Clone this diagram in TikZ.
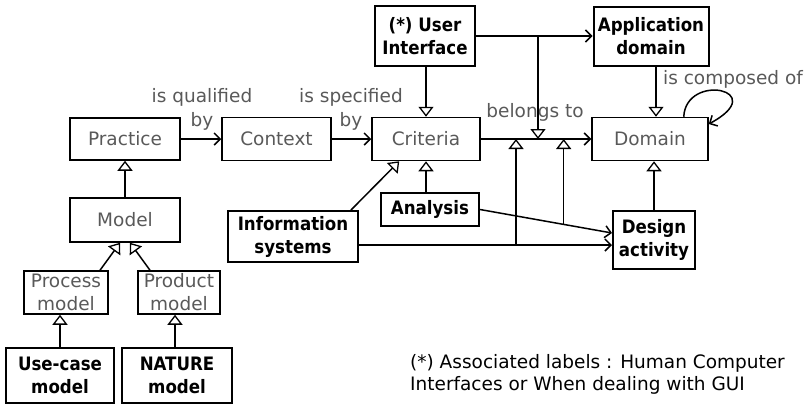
\documentclass[tikz,border=0pt]{standalone}
\usepackage{fontspec}
\setmainfont{DejaVu Sans}
\newfontfamily\strongfont{DejaVu Sans Condensed}
\usetikzlibrary{arrows.meta,calc}
\definecolor{softink}{gray}{0.35}

\tikzset{
  sz/.style 2 args={minimum width=#1bp, minimum height=#2bp},
  plain/.style={draw, line width=1.5bp, text=softink, inner sep=0pt, align=center,
    font=\fontsize{18.5bp}{23bp}\selectfont},
  strong/.style={draw, line width=2bp, inner sep=0pt, align=center,
    font=\strongfont\fontsize{18.5bp}{23bp}\selectfont\bfseries},
  lbl/.style={text=softink, inner sep=0pt, align=center,
    font=\fontsize{18.5bp}{24bp}\selectfont},
  assoc/.style={line width=1.5bp, -{Straight Barb[length=6bp,width=12bp,line width=1.5bp]}},
  isa/.style={line width=1.5bp, -{Triangle[open,length=10bp,width=15bp,fill=white,line width=1.3bp]}}
}

\begin{document}
\begin{tikzpicture}[x=1bp, y=-1bp]
\useasboundingbox (0,0) rectangle (809,404);

% classes
\node[plain, sz={110}{42}] (practice) at (125,139) {Practice};
\node[plain, sz={109}{43}] (context) at (276.5,139) {Context};
\node[plain, sz={108}{43}] (criteria) at (426,139) {Criteria};
\node[plain, sz={116}{43}] (domain) at (650,139) {Domain};
\node[strong, sz={100}{60}] (ui) at (425,36) {(*) User\\Interface};
\node[strong, sz={115}{59}] (appdom) at (651,36) {Application\\domain};
\node[plain, sz={110}{44}] (model) at (125,220) {Model};
\node[plain, sz={84}{43}] (process) at (66,292.5) {Process\\model};
\node[plain, sz={82}{43}] (product) at (179,292.5) {Product\\model};
\node[strong, sz={108}{55}] (usecase) at (60,375.5) {Use-case\\model};
\node[strong, sz={110}{55}] (nature) at (177,375.5) {NATURE\\model};
\node[strong, sz={130}{51}] (info) at (293,236.5) {Information\\systems};
\node[strong, sz={98}{33}] (analysis) at (430,209.5) {Analysis};
\node[strong, sz={82}{58}] (design) at (654,240) {Design\\activity};

% association labels
\node[lbl] (lq) at (202,109) {is qualified\\by};
\node[lbl] (ls) at (351,109) {is specified\\by};
\node[lbl] (lb) at (535,112) {belongs to};
\node[lbl] (lc) at (733,79) {is composed of};

% associations
\draw[assoc] (practice) -- (context);
\draw[assoc] (context) -- (criteria);
\draw[assoc] (criteria) -- (domain);
\draw[assoc] (ui) -- (appdom);
\coordinate (j1) at (538,36);
\draw[isa] (j1) -- (j1 |- criteria.east);

\draw[assoc] (domain.north east) ++(-25,0) coordinate (ls0)
  .. controls (686,72) and (772,90) .. ($(domain.east)+(0,-15)$);

% generalisations around Criteria and Domain
\draw[isa] (ui.south -| criteria.south) -- (criteria.north);
\coordinate (adx) at (656,0);
\draw[isa] (appdom.south -| adx) -- (domain.north -| adx);
\draw[isa] (design.north) -- (design.north |- domain.south);
\draw[isa] (analysis.north -| criteria.south) -- (criteria.south);
\draw[isa] ($(info.north east)+(-8,0)$) -- ($(criteria.south west)+(28,0)$);

% links into Design activity
\coordinate (dA) at ($(design.west)+(0,-7)$);
\draw[assoc] (analysis.east) -- (dA);
\coordinate (ia) at ($(info.east)+(0,8.5)$);
\draw[assoc] (ia) -- (ia -| design.west);
\coordinate (v1) at (516,0);
\draw[isa] (ia -| v1) -- (v1 |- criteria.east);
\coordinate (v2) at ($(analysis.east)!0.634!(dA)$);
\draw[isa] (v2) -- (v2 |- criteria.east);

% model hierarchy
\draw[isa] (model) -- (practice);
\draw[isa] ($(process.north)+(34,0)$) -- ($(model.south)+(-5,0)$);
\draw[isa] ($(product.north)+(-29,0)$) -- ($(model.south)+(5,0)$);
\draw[isa] (usecase.north) -- (usecase.north |- process.south);
\draw[isa] ($(nature.north)+(-2,0)$) -- ($(nature.north |- product.south)+(-2,0)$);

% footnote
\node[anchor=north west, align=left, inner sep=0pt,
  font=\fontsize{18.5bp}{22bp}\selectfont] (note) at (410,354)
  {(*) Associated labels : Human Computer\\Interfaces or When dealing with GUI};
\end{tikzpicture}
\end{document}
